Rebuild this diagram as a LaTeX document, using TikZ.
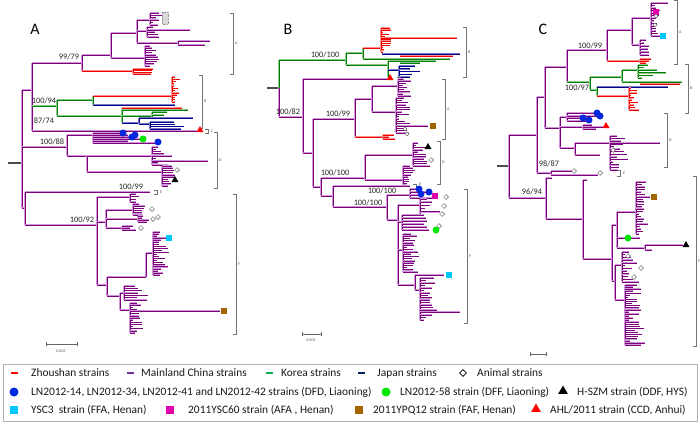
\documentclass[tikz,border=0pt]{standalone}
\usepackage{fontspec}
\setmainfont{Carlito}
\usetikzlibrary{shapes.geometric}
\definecolor{pD}{RGB}{125,0,125}
\definecolor{pL}{RGB}{205,150,215}
\definecolor{rD}{RGB}{240,0,0}
\definecolor{rL}{RGB}{255,140,140}
\definecolor{gD}{RGB}{0,128,0}
\definecolor{gL}{RGB}{140,200,140}
\definecolor{nD}{RGB}{0,0,140}
\definecolor{nL}{RGB}{120,120,195}
\definecolor{legP}{RGB}{112,48,160}
\definecolor{legG}{RGB}{0,176,80}
\definecolor{legN}{RGB}{0,32,96}
\definecolor{mBlue}{RGB}{0,40,220}
\definecolor{mGreen}{RGB}{0,230,0}
\definecolor{mCyan}{RGB}{0,200,250}
\definecolor{mMag}{RGB}{225,0,170}
\definecolor{mBrown}{RGB}{160,100,0}
\tikzset{
 pb/.style={draw=pD,line width=0.65pt,preaction={draw=pL,line width=1.5pt}},
 rb/.style={draw=rD,line width=0.65pt,preaction={draw=rL,line width=1.5pt}},
 gb/.style={draw=gD,line width=0.65pt,preaction={draw=gL,line width=1.5pt}},
 nb/.style={draw=nD,line width=0.65pt,preaction={draw=nL,line width=1.5pt}},
 rootb/.style={draw=black!70,line width=1.2pt},
 brk/.style={draw=black!55,line width=0.7pt},
 bs/.style={font=\fontsize{8.3}{9}\selectfont,text=black!85,inner sep=0pt},
 plab/.style={font=\fontsize{16}{17}\selectfont,inner sep=0pt},
 cl/.style={font=\fontsize{4}{4}\selectfont,text=black!70,inner sep=0pt},
 bcirc/.style={circle,fill=mBlue,minimum size=7pt,inner sep=0pt},
 gcirc/.style={circle,fill=mGreen,minimum size=7pt,inner sep=0pt},
 cysq/.style={rectangle,fill=mCyan,minimum size=6.5pt,inner sep=0pt},
 mgsq/.style={rectangle,fill=mMag,minimum size=6.5pt,inner sep=0pt},
 brsq/.style={rectangle,fill=mBrown,minimum size=6.5pt,inner sep=0pt},
 rtri/.style={regular polygon,regular polygon sides=3,fill=red,minimum size=8pt,inner sep=0pt},
 btri/.style={regular polygon,regular polygon sides=3,fill=black,minimum size=8pt,inner sep=0pt},
 dia/.style={diamond,draw=black!60,fill=white,line width=0.5pt,minimum size=5pt,inner sep=0pt},
 legt/.style={font=\fontsize{11.4}{13}\selectfont,anchor=west,inner sep=0pt,text=black!90},
}
\newcommand\comb[7]{%
  \draw[#1] (#2,#3) -- (#2,#4);
  \pgfmathtruncatemacro\combn{#5-1}
  \pgfmathsetmacro\combdy{(#4-#3)/\combn}
  \foreach \ci in {0,...,\combn}{
    \pgfmathsetmacro\cy{#3+\ci*\combdy}
    \pgfmathsetmacro\cl{#6+rnd*(#7-#6)}
    \draw[#1] (#2,\cy) -- ++(\cl,0);
  }%
}
\newcommand\brak[4]{% x, y1, y2, label
  \draw[brk] (#1-3,#2) -- (#1,#2) -- (#1,#3) -- (#1-3,#3);
  \node[cl,anchor=west] at (#1+2,{(#2+#3)/2}) {#4};
}
\begin{document}
\begin{tikzpicture}[x=1pt,y=-1pt]
\pgfmathsetseed{11}
\useasboundingbox (0,0) rectangle (700,423);
\fill[white] (0,0) rectangle (700,423);

%%%%%%%%%%%%%%%% PANEL A
\node[plab] (LA) at (35,29) {A};
\draw[rootb] (8,163) -- (22,163);
\draw[pb] (22,90) -- (22,208);
\draw[pb] (22,90) -- (32,90);
\draw[pb] (32,63) -- (32,131);
\draw[pb] (32,63) -- (82,63);
\node[bs] (bA1) at (69,57) {99/79};
\draw[pb] (82,55) -- (82,71);
\draw[pb] (82,55) -- (111,55);
\draw[pb] (111,33) -- (111,58);
\draw[pb] (111,33) -- (137,33);
\draw[pb] (137,20) -- (137,43);
\draw[pb] (137,20) -- (150,20);
\comb{pb}{150}{13}{25}{6}{3}{12}
\fill[black!15] (162,12) rectangle (168,24);
\draw[black!40,densely dotted] (162,12) rectangle (168,24);
\draw[pb] (137,31) -- (147,31);
\comb{pb}{147}{27}{37}{5}{4}{16}
\draw[pb] (147,30) -- (190,30);
\draw[pb] (137,43) -- (178,43);
\draw[pb] (178,41) -- (178,45);
\draw[pb] (178,41) -- (210,41);
\draw[pb] (178,45) -- (205,45);
\draw[pb] (111,58) -- (145,58);
\comb{pb}{145}{46}{66}{10}{3}{15}
\draw[rb] (82,71) -- (133,71);
\comb{rb}{133}{69}{74}{4}{10}{24}
\brak{233}{13}{74}{A}
% B (Korea/Japan)
\draw[gb] (32,106) -- (57,106);
\node[bs] (bA2) at (44,101) {100/94};
\draw[gb] (57,100) -- (57,116);
\draw[gb] (57,100) -- (93,100);
\draw[gb] (93,96) -- (93,105);
\draw[rb] (93,96) -- (172,96);
\comb{rb}{172}{77}{102}{12}{2}{8}
\draw[nb] (93,105) -- (175,105);
\draw[gb] (57,116) -- (122,116);
\draw[gb] (122,108) -- (122,123);
\draw[rb] (122,108) -- (182,108);
\draw[gb] (122,110) -- (188,110);
\draw[gb] (122,116) -- (152,116);
\comb{gb}{152}{112}{118}{3}{8}{20}
\draw[nb] (122,123) -- (139,123);
\draw[nb] (139,118) -- (139,124);
\draw[nb] (139,118) -- (193,118);
\draw[nb] (139,124) -- (150,124);
\comb{nb}{150}{122}{129}{4}{20}{42}
\node[bs] (bA3) at (44,121) {87/74};
\brak{202}{75}{128}{B}
% C
\draw[pb] (32,131) -- (197,131);
\node[rtri] (tA) at (200,130) {};
\draw[brk] (205,129) -- (208,129) -- (208,133) -- (205,133);
\node[cl] at (212,131) {C};
% D
\draw[pb] (22,147) -- (67,147);
\node[bs] (bA4) at (52,142) {100/88};
\draw[pb] (67,135) -- (67,156);
\draw[pb] (67,135) -- (93,135);
\draw[pb] (93,133) -- (93,143);
\draw[pb] (93,133) -- (120,133);
\draw[pb] (93,135) -- (128,135);
\draw[pb] (93,137) -- (131,137);
\draw[pb] (93,139) -- (140,139);
\draw[pb] (93,141) -- (128,141);
\draw[pb] (93,143) -- (155,143);
\node[bcirc] (cA1) at (123,133) {};
\node[bcirc] (cA2) at (132,137) {};
\node[bcirc] (cA3) at (135,135) {};
\node[gcirc] (gA) at (143,139) {};
\node[bcirc] (cA4) at (158,142) {};
\draw[pb] (67,156) -- (87,156);
\draw[pb] (87,156) -- (87,172);
\draw[pb] (87,156) -- (152,156);
\comb{pb}{152}{147}{165}{9}{3}{22}
\draw[pb] (152,161) -- (208,161);
\draw[pb] (87,172) -- (162,172);
\comb{pb}{162}{166}{186}{10}{3}{16}
\node[dia] (dA0) at (177,170) {};
\node[btri] (kA) at (175,180) {};
\brak{217}{132}{188}{D}
% E, F
\draw[pb] (22,208) -- (25,208);
\draw[pb] (25,192) -- (25,225);
\draw[pb] (25,192) -- (150,192);
\node[bs] (bA5) at (131,187) {100/99};
\draw[brk] (154,190) -- (157,190) -- (157,194) -- (154,194);
\node[cl] at (161,192) {E};
\draw[pb] (25,225) -- (97,225);
\node[bs] (bA6) at (82,220) {100/92};
\draw[pb] (97,197) -- (97,285);
\draw[pb] (97,197) -- (130,197);
\comb{pb}{130}{194}{202}{4}{3}{14}
\draw[pb] (97,222) -- (106,222);
\draw[pb] (106,210) -- (106,228);
\draw[pb] (106,210) -- (133,210);
\comb{pb}{133}{204}{215}{6}{3}{15}
\draw[pb] (106,219) -- (138,219);
\comb{pb}{138}{216}{222}{4}{3}{12}
\draw[pb] (106,228) -- (122,228);
\comb{pb}{122}{226}{230}{3}{8}{15}
\node[dia] (dA1) at (152,209) {};
\node[dia] (dA2) at (153,219) {};
\node[dia] (dA3) at (158,217) {};
\node[dia] (dA4) at (141,228) {};
\draw[pb] (97,285) -- (107,285);
\draw[pb] (107,277) -- (107,296);
\draw[pb] (107,277) -- (146,277);
\draw[pb] (146,253) -- (146,277);
\draw[pb] (146,253) -- (153,253);
\comb{pb}{153}{232}{275}{22}{3}{18}
\node[cysq] (sA) at (169,238) {};
\draw[pb] (107,296) -- (120,296);
\draw[pb] (120,293) -- (120,310);
\draw[pb] (120,293) -- (124,293);
\comb{pb}{124}{286}{300}{7}{8}{25}
\draw[pb] (120,310) -- (130,310);
\comb{pb}{130}{303}{333}{15}{3}{14}
\draw[pb] (130,311) -- (220,311);
\node[brsq] (wA) at (224,311) {};
\brak{236}{194}{334}{F}
\draw[black!60,line width=0.6pt] (46,344) -- (77,344);
\draw[black!60,line width=0.6pt] (46,342) -- (46,346) (77,342) -- (77,346);
\node[cl] at (61,351) {0.005};

%%%%%%%%%%%%%%%% PANEL B
\node[plab] (LB) at (288,29) {B};
\draw[rootb] (267,88) -- (279,88);
\draw[gb] (279,60) -- (279,88);
\draw[pb] (279,88) -- (279,117);
\draw[gb] (279,60) -- (346,60);
\node[bs] (bB1) at (325,55) {100/100};
\draw[gb] (346,53) -- (346,65);
\draw[gb] (346,53) -- (363,53);
\draw[gb] (363,48) -- (363,59);
\draw[rb] (363,48) -- (381,48);
\comb{rb}{381}{28}{52}{12}{2}{10}
\draw[rb] (381,38) -- (457,38);
\draw[nb] (382,54) -- (460,54);
\draw[rb] (400,56) -- (453,56);
\draw[gb] (363,59) -- (450,59);
\draw[gb] (346,65) -- (388,65);
\draw[gb] (388,61) -- (388,77);
\draw[gb] (388,61) -- (436,61);
\draw[gb] (400,63) -- (420,63);
\draw[nb] (388,70) -- (399,70);
\comb{nb}{399}{66}{77}{5}{8}{22}
\brak{466}{27}{77}{B}
\draw[pb] (279,117) -- (303,117);
\node[bs] (bB2) at (288,112) {100/82};
\draw[pb] (303,79) -- (303,153);
\draw[pb] (303,79) -- (387,79);
\node[rtri] (tB) at (390,78) {};
\draw[brk] (397,77) -- (400,77) -- (400,81) -- (397,81);
\node[cl] at (404,79) {C};
\draw[pb] (303,153) -- (313,153);
\draw[pb] (313,119) -- (313,187);
\draw[pb] (313,119) -- (355,119);
\node[bs] (bB3) at (338,114) {100/99};
\draw[pb] (355,99) -- (355,137);
\draw[pb] (355,99) -- (372,99);
\draw[pb] (372,86) -- (372,112);
\draw[pb] (372,86) -- (398,86);
\comb{pb}{398}{79}{96}{9}{3}{15}
\draw[pb] (372,112) -- (396,112);
\comb{pb}{396}{98}{133}{16}{3}{17}
\draw[pb] (396,126) -- (428,126);
\node[brsq] (wB) at (433,126) {};
\node[dia,minimum size=4pt] (dB1) at (405,129) {};
\node[dia,minimum size=4pt] (dB2) at (407,134) {};
\draw[rb] (355,137) -- (383,137);
\comb{rb}{383}{135}{139}{3}{5}{14}
\brak{445}{79}{139}{A}
\draw[pb] (313,187) -- (321,187);
\draw[pb] (321,178) -- (321,196);
\draw[pb] (321,178) -- (365,178);
\node[bs] (bB4) at (335,173) {100/100};
\draw[pb] (365,155) -- (365,180);
\draw[pb] (365,155) -- (413,155);
\comb{pb}{413}{143}{166}{11}{3}{17}
\node[btri] (kB) at (428,147) {};
\node[dia] (dB3) at (431,160) {};
\draw[pb] (365,180) -- (403,180);
\comb{pb}{403}{166}{186}{10}{3}{14}
\brak{440}{141}{184}{D}
\draw[pb] (321,196) -- (333,196);
\draw[pb] (333,186) -- (333,207);
\draw[pb] (333,186) -- (410,186);
\draw[brk] (413,184) -- (416,184) -- (416,188) -- (413,188);
\node[cl] at (420,184) {E};
\node[bs] (bB5) at (382,191) {100/100};
\draw[pb] (333,207) -- (387,207);
\node[bs] (bB6) at (368,203) {100/100};
\draw[pb] (387,195) -- (387,220);
\draw[pb] (387,195) -- (410,195);
\draw[pb] (410,189) -- (410,198);
\draw[pb] (410,189) -- (417,189);
\draw[pb] (410,192) -- (426,192);
\draw[pb] (410,195) -- (418,195);
\draw[pb] (410,198) -- (432,198);
\node[bcirc] (cB1) at (419,189) {};
\node[bcirc] (cB2) at (421,194) {};
\node[bcirc] (cB3) at (429,192) {};
\node[mgsq] (mB) at (435,196) {};
\draw[pb] (387,220) -- (398,220);
\draw[pb] (398,205) -- (398,285);
\draw[pb] (398,205) -- (420,205);
\comb{pb}{420}{199}{215}{6}{3}{20}
\node[dia] (dB4) at (446,197) {};
\node[dia] (dB5) at (444,206) {};
\node[dia] (dB6) at (442,214) {};
\draw[pb] (398,222) -- (402,222);
\comb{pb}{402}{215}{230}{6}{8}{28}
\node[dia] (dB7) at (439,226) {};
\node[gcirc] (gB) at (436,230) {};
\draw[pb] (398,250) -- (403,250);
\comb{pb}{403}{234}{272}{18}{3}{16}
\draw[pb] (398,285) -- (415,285);
\draw[pb] (415,275) -- (415,290);
\draw[pb] (415,275) -- (444,275);
\node[cysq] (sB) at (449,275) {};
\draw[pb] (415,290) -- (420,290);
\comb{pb}{420}{278}{320}{18}{3}{18}
\draw[pb] (420,312) -- (460,312);
\brak{467}{189}{323}{F}
\draw[black!60,line width=0.6pt] (302,334) -- (321,334);
\draw[black!60,line width=0.6pt] (302,332) -- (302,336) (321,332) -- (321,336);
\node[cl] at (311,340) {0.005};

%%%%%%%%%%%%%%%% PANEL C
\node[plab] (LC) at (543,29) {C};
\draw[rootb] (497,166) -- (509,166);
\draw[pb] (509,135) -- (509,198);
\draw[pb] (509,135) -- (537,135);
\draw[pb] (537,97) -- (537,173);
\draw[pb] (537,97) -- (545,97);
\draw[pb] (545,67) -- (545,128);
\draw[pb] (545,67) -- (567,67);
\draw[pb] (567,50) -- (567,82);
\draw[pb] (567,50) -- (607,50);
\node[bs] (bC1) at (590,46) {100/99};
\draw[pb] (607,30) -- (607,61);
\draw[pb] (607,30) -- (632,30);
\draw[pb] (632,18) -- (632,45);
\draw[pb] (632,18) -- (651,18);
\comb{pb}{651}{3}{36}{14}{2}{11}
\draw[pb] (651,3) -- (668,3);
\draw[pb] (632,45) -- (640,45);
\comb{pb}{640}{40}{55}{6}{3}{10}
\node[mgsq] (mC) at (656,12) {};
\node[dia,minimum size=4pt] (dC1) at (656,16) {};
\node[dia,minimum size=4pt] (dC2) at (655,25) {};
\node[cysq] (sC) at (663,36) {};
\draw[rb] (607,61) -- (640,61);
\comb{rb}{640}{59}{63}{3}{5}{12}
\brak{677}{0}{64}{A}
\draw[gb] (567,82) -- (590,82);
\node[bs] (bC2) at (577,88) {100/97};
\draw[gb] (590,77) -- (590,90);
\draw[gb] (590,77) -- (622,77);
\draw[gb] (622,70) -- (622,82);
\draw[gb] (622,70) -- (638,70);
\comb{gb}{638}{65}{78}{6}{3}{30}
\draw[gb] (622,82) -- (682,82);
\draw[rb] (640,84) -- (680,84);
\draw[gb] (590,90) -- (597,90);
\draw[gb] (597,87) -- (597,96);
\draw[nb] (597,87) -- (668,87);
\draw[rb] (597,96) -- (629,96);
\comb{rb}{629}{88}{110}{10}{2}{10}
\brak{688}{64}{113}{B}
\draw[pb] (545,128) -- (560,128);
\draw[pb] (560,117) -- (560,148);
\draw[pb] (560,117) -- (567,117);
\draw[pb] (567,113) -- (567,121);
\draw[pb] (567,113) -- (595,113);
\draw[pb] (567,116) -- (598,116);
\draw[pb] (567,118) -- (582,118);
\draw[pb] (567,121) -- (588,121);
\node[bcirc] (cC1) at (597,113) {};
\node[bcirc] (cC2) at (600,116) {};
\node[bcirc] (cC3) at (583,118) {};
\node[bcirc] (cC4) at (589,120) {};
\draw[pb] (560,127) -- (583,127);
\draw[pb] (583,125) -- (583,129);
\draw[pb] (583,127) -- (603,127);
\draw[pb] (583,125) -- (592,125);
\draw[pb] (583,129) -- (596,129);
\node[rtri] (tC) at (606,126) {};
\draw[pb] (560,148) -- (575,148);
\draw[pb] (575,143) -- (575,155);
\draw[pb] (575,143) -- (610,143);
\comb{pb}{610}{136}{170}{14}{3}{20}
\draw[pb] (610,143) -- (660,143);
\draw[pb] (575,155) -- (600,155);
\node[dia] (dC3) at (613,150) {};
\brak{667}{113}{167}{D}
\draw[pb] (537,173) -- (551,173);
\node[bs] (bC3) at (549,164) {98/87};
\draw[pb] (551,171) -- (551,175);
\draw[pb] (551,171) -- (572,171);
\draw[pb] (551,175) -- (598,175);
\node[dia] (dC4) at (574,171) {};
\node[dia] (dC5) at (600,173) {};
\draw[brk] (617,170) -- (620,170) -- (620,176) -- (617,176);
\node[cl] at (624,173) {E};
\draw[pb] (509,198) -- (546,198);
\node[bs] (bC4) at (532,192) {96/94};
\draw[pb] (546,178) -- (546,219);
\draw[pb] (546,178) -- (552,178);
\draw[pb] (546,219) -- (583,219);
\draw[pb] (583,180) -- (583,259);
\draw[pb] (583,180) -- (587,180);
\draw[pb] (583,259) -- (612,259);
\draw[pb] (612,225) -- (612,281);
\draw[pb] (612,225) -- (617,225);
\draw[pb] (617,212) -- (617,248);
\draw[pb] (617,212) -- (636,212);
\comb{pb}{636}{182}{234}{22}{3}{12}
\draw[pb] (636,197) -- (650,197);
\node[brsq] (wC) at (654,197) {};
\draw[pb] (617,238) -- (640,238);
\node[gcirc] (gC) at (628,238) {};
\draw[pb] (617,248) -- (645,248);
\draw[pb] (645,245) -- (645,250);
\draw[pb] (645,245) -- (683,245);
\draw[pb] (645,250) -- (652,250);
\node[btri] (kC) at (686,245) {};
\draw[pb] (612,281) -- (615,281);
\draw[pb] (615,265) -- (615,300);
\draw[pb] (615,265) -- (622,265);
\comb{pb}{622}{252}{282}{12}{3}{18}
\node[dia] (dC6) at (628,256) {};
\node[dia] (dC7) at (641,268) {};
\node[dia] (dC8) at (634,277) {};
\draw[pb] (615,300) -- (625,300);
\comb{pb}{625}{285}{345}{30}{3}{20}
\brak{696}{176}{346}{F}
\draw[black!60,line width=0.6pt] (530,354) -- (546,354);
\draw[black!60,line width=0.6pt] (530,352) -- (530,356) (546,352) -- (546,356);

%%%%%%%%%%%%%%%% LEGEND
\draw[black!30,line width=0.8pt] (3,364) rectangle (697,421);
\draw[red,line width=2pt] (11,373) -- (18,373);
\node[legt] (l1) at (31,373) {Zhoushan strains};
\draw[legP,line width=2pt] (127,373) -- (134,373);
\node[legt] (l2) at (141,373) {Mainland China strains};
\draw[legG,line width=2pt] (266,373) -- (273,373);
\node[legt] (l3) at (281,373) {Korea strains};
\draw[legN,line width=2pt] (358,373) -- (365,373);
\node[legt] (l4) at (377,373) {Japan strains};
\node[diamond,draw=black,line width=0.7pt,minimum size=7pt,inner sep=0pt] (k5) at (463,373) {};
\node[legt] (l5) at (477,373) {Animal strains};
\node[circle,fill=mBlue,minimum size=9pt,inner sep=0pt] (k6) at (14,392) {};
\node[legt] (l6) at (31,392) {LN2012-14, LN2012-34, LN2012-41 and LN2012-42 strains (DFD, Liaoning)};
\node[circle,fill=mGreen,minimum size=9pt,inner sep=0pt] (k7) at (386,392) {};
\node[legt] (l7) at (400,392) {LN2012-58 strain (DFF, Liaoning)};
\node[regular polygon,regular polygon sides=3,fill=black,minimum size=11pt,inner sep=0pt] (k8) at (563,391) {};
\node[legt] (l8) at (577,392) {H-SZM strain (DDF, HYS)};
\node[rectangle,fill=mCyan,minimum size=8pt,inner sep=0pt] (k9) at (14,410) {};
\node[legt] (l9) at (31,410) {YSC3\ \ strain (FFA, Henan)};
\node[rectangle,fill=mMag,minimum size=8pt,inner sep=0pt] (k10) at (170,410) {};
\node[legt] (l10) at (188,410) {2011YSC60 strain (AFA , Henan)};
\node[rectangle,fill=mBrown,minimum size=8pt,inner sep=0pt] (k11) at (359,410) {};
\node[legt] (l11) at (373,410) {2011YPQ12 strain (FAF, Henan)};
\node[regular polygon,regular polygon sides=3,fill=red,minimum size=11pt,inner sep=0pt] (k12) at (536,409) {};
\node[legt] (l12) at (550,410) {AHL/2011 strain (CCD, Anhui)};
\end{tikzpicture}
\end{document}
